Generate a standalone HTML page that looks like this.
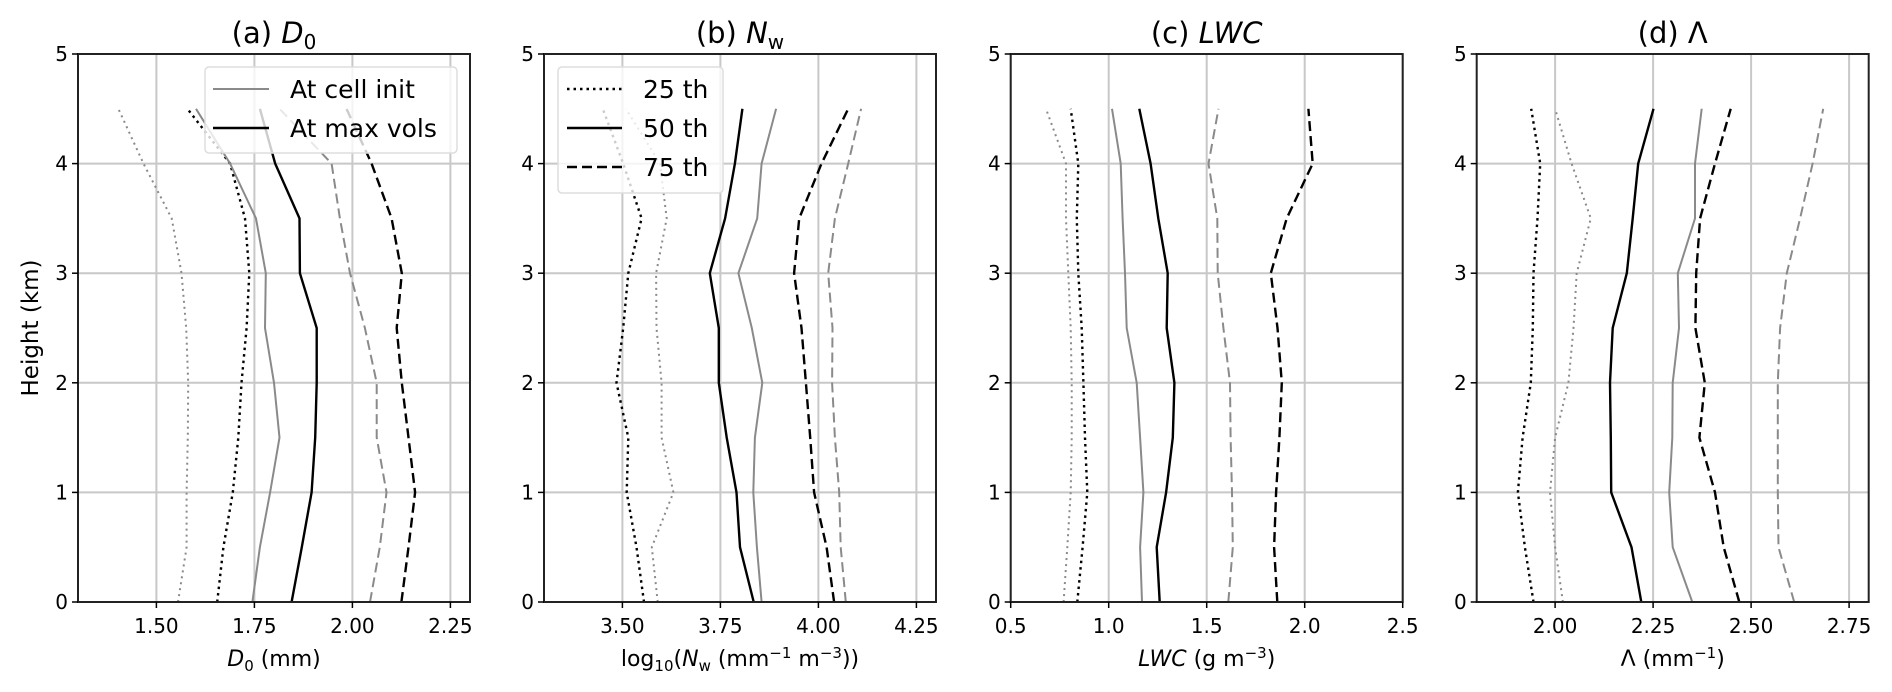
<!DOCTYPE html>
<html><head><meta charset="utf-8">
<style>
html,body{margin:0;padding:0;background:#fff;}
svg{display:block;font-family:"DejaVu Sans","Liberation Sans",sans-serif;}
</style></head>
<body>
<svg id="chart" width="1892" height="692" viewBox="0 0 1892 692" xmlns="http://www.w3.org/2000/svg"></svg>
<script>
// Heights (km) shared by all profiles
const heights = [0, 0.5, 1, 1.5, 2, 2.5, 3, 3.5, 4, 4.5];
const yTicks = [0, 1, 2, 3, 4, 5];

// (a) D0
const d0Ticks = [1.50, 1.75, 2.00, 2.25];
const d0InitP25 = [1.555, 1.577, 1.577, 1.58, 1.581, 1.576, 1.564, 1.539, 1.467, 1.403];
const d0MaxP25  = [1.655, 1.671, 1.695, 1.709, 1.717, 1.73, 1.737, 1.726, 1.688, 1.579];
const d0InitP50 = [1.745, 1.764, 1.79, 1.814, 1.8, 1.777, 1.779, 1.754, 1.688, 1.601];
const d0MaxP50  = [1.845, 1.871, 1.896, 1.905, 1.909, 1.909, 1.866, 1.865, 1.803, 1.764];
const d0InitP75 = [2.045, 2.07, 2.087, 2.062, 2.062, 2.032, 1.994, 1.968, 1.947, 1.814];
const d0MaxP75  = [2.125, 2.143, 2.16, 2.143, 2.126, 2.113, 2.126, 2.1, 2.049, 1.985];

// (b) Nw
const nwTicks = [3.50, 3.75, 4.00, 4.25];
const nwInitP25 = [3.59, 3.575, 3.63, 3.6, 3.6, 3.587, 3.586, 3.613, 3.596, 3.509];
const nwMaxP25  = [3.555, 3.536, 3.511, 3.515, 3.485, 3.502, 3.515, 3.549, 3.502, 3.45];
const nwInitP50 = [3.855, 3.843, 3.834, 3.838, 3.857, 3.83, 3.796, 3.844, 3.855, 3.892];
const nwMaxP50  = [3.835, 3.8, 3.791, 3.766, 3.746, 3.746, 3.723, 3.762, 3.787, 3.806];
const nwInitP75 = [4.07, 4.057, 4.053, 4.042, 4.035, 4.036, 4.025, 4.042, 4.076, 4.109];
const nwMaxP75  = [4.04, 4.021, 3.989, 3.979, 3.968, 3.957, 3.938, 3.951, 4.008, 4.076];

// (c) LWC
const lwcTicks = [0.5, 1.0, 1.5, 2.0, 2.5];
const lwcInitP25 = [0.77, 0.789, 0.806, 0.811, 0.811, 0.806, 0.794, 0.782, 0.782, 0.68];
const lwcMaxP25  = [0.84, 0.867, 0.891, 0.879, 0.871, 0.862, 0.845, 0.837, 0.845, 0.806];
const lwcInitP50 = [1.17, 1.16, 1.177, 1.16, 1.143, 1.092, 1.083, 1.071, 1.061, 1.017];
const lwcMaxP50  = [1.26, 1.245, 1.293, 1.327, 1.335, 1.296, 1.301, 1.253, 1.214, 1.156];
const lwcInitP75 = [1.61, 1.633, 1.629, 1.622, 1.619, 1.585, 1.556, 1.554, 1.509, 1.56];
const lwcMaxP75  = [1.86, 1.844, 1.854, 1.871, 1.883, 1.861, 1.827, 1.908, 2.041, 2.019];

// (d) Lambda
const lamTicks = [2.00, 2.25, 2.50, 2.75];
const lamInitP25 = [2.02, 2.0, 1.987, 2.0, 2.034, 2.047, 2.055, 2.091, 2.042, 2.0];
const lamMaxP25  = [1.945, 1.923, 1.905, 1.917, 1.938, 1.943, 1.945, 1.955, 1.962, 1.939];
const lamInitP50 = [2.35, 2.30, 2.291, 2.299, 2.3, 2.316, 2.313, 2.357, 2.357, 2.374];
const lamMaxP50  = [2.22, 2.195, 2.143, 2.142, 2.14, 2.147, 2.183, 2.198, 2.212, 2.251];
const lamInitP75 = [2.61, 2.57, 2.568, 2.568, 2.568, 2.574, 2.591, 2.625, 2.657, 2.684];
const lamMaxP75  = [2.47, 2.43, 2.408, 2.368, 2.382, 2.358, 2.36, 2.37, 2.408, 2.448];

const NS = "http://www.w3.org/2000/svg";
const svg = document.getElementById("chart");
const GRAY = "#8a8a8a", BLACK = "#000";
const TOP = 54, BOT = 602, W = 392;
const yScale = h => BOT - (h / 5) * (BOT - TOP);

function mk(tag, attrs, parent) {
  const e = document.createElementNS(NS, tag);
  for (const k in attrs) e.setAttribute(k, attrs[k]);
  (parent || svg).appendChild(e);
  return e;
}

const panels = [
  {key:"d0", left:78, min:1.3, max:2.3, ticks:d0Ticks, dec:2,
   title:'(a) <tspan font-style="italic">D</tspan><tspan font-size="20" dy="6">0</tspan>',
   xlabel:'<tspan font-style="italic">D</tspan><tspan font-size="15" dy="5">0</tspan><tspan dy="-5"> (mm)</tspan>',
   series:[[d0InitP25,GRAY,"dot"],[d0MaxP25,BLACK,"dot"],[d0InitP50,GRAY,"solid"],[d0MaxP50,BLACK,"solid"],[d0InitP75,GRAY,"dash"],[d0MaxP75,BLACK,"dash"]]},
  {key:"nw", left:544, min:3.3, max:4.3, ticks:nwTicks, dec:2,
   title:'(b) <tspan font-style="italic">N</tspan><tspan font-size="20" dy="6">w</tspan>',
   xlabel:'log<tspan font-size="15" dy="5">10</tspan><tspan dy="-5">(</tspan><tspan font-style="italic">N</tspan><tspan font-size="15" dy="5">w</tspan><tspan dy="-5"> (mm</tspan><tspan font-size="15" dy="-8">−1</tspan><tspan dy="8"> m</tspan><tspan font-size="15" dy="-8">−3</tspan><tspan dy="8">))</tspan>',
   series:[[nwInitP25,GRAY,"dot"],[nwMaxP25,BLACK,"dot"],[nwInitP50,GRAY,"solid"],[nwMaxP50,BLACK,"solid"],[nwInitP75,GRAY,"dash"],[nwMaxP75,BLACK,"dash"]]},
  {key:"lwc", left:1010.7, min:0.5, max:2.5, ticks:lwcTicks, dec:1,
   title:'(c) <tspan font-style="italic">LWC</tspan>',
   xlabel:'<tspan font-style="italic">LWC</tspan> (g m<tspan font-size="15" dy="-8">−3</tspan><tspan dy="8">)</tspan>',
   series:[[lwcInitP25,GRAY,"dot"],[lwcMaxP25,BLACK,"dot"],[lwcInitP50,GRAY,"solid"],[lwcMaxP50,BLACK,"solid"],[lwcInitP75,GRAY,"dash"],[lwcMaxP75,BLACK,"dash"]]},
  {key:"lambda", left:1476.7, min:1.8, max:2.8, ticks:lamTicks, dec:2,
   title:'(d) Λ',
   xlabel:'Λ (mm<tspan font-size="15" dy="-8">−1</tspan><tspan dy="8">)</tspan>',
   series:[[lamInitP25,GRAY,"dot"],[lamMaxP25,BLACK,"dot"],[lamInitP50,GRAY,"solid"],[lamMaxP50,BLACK,"solid"],[lamInitP75,GRAY,"dash"],[lamMaxP75,BLACK,"dash"]]}
];

function styleLine(el, color, kind) {
  el.setAttribute("stroke", color);
  el.setAttribute("fill", "none");
  el.setAttribute("stroke-width", color === GRAY ? "2" : "2.4");
  if (kind === "dot") el.setAttribute("stroke-dasharray", color === GRAY ? "2 4" : "2.5 4");
  if (kind === "dash") el.setAttribute("stroke-dasharray", "10 5");
}

panels.forEach(p => {
  const g = mk("g", {});
  
  
  const xs = v => p.left + (v - p.min) / (p.max - p.min) * W;
  // grid
  p.ticks.forEach(t => {
    const gl = mk("line", {x1:xs(t), x2:xs(t), y1:TOP, y2:BOT, stroke:"#c8c8c8", "stroke-width":2}, g);
    
    
  });
  yTicks.forEach(t => {
    const gl = mk("line", {x1:p.left, x2:p.left+W, y1:yScale(t), y2:yScale(t), stroke:"#c8c8c8", "stroke-width":2}, g);
    
    
  });
  // series
  p.series.forEach((s, i) => {
    const pts = s[0].map((v, j) => xs(v).toFixed(1) + "," + yScale(heights[j]).toFixed(1)).join(" ");
    const pl = mk("polyline", {points:pts}, g);
    
    
    styleLine(pl, s[1], s[2]);
  });
  // frame
  const fr = mk("rect", {x:p.left, y:TOP, width:W, height:BOT-TOP, fill:"none", stroke:"#222", "stroke-width":2}, g);
  
  
  // x ticks
  p.ticks.forEach(t => {
    mk("line", {x1:xs(t), x2:xs(t), y1:BOT, y2:BOT+6, stroke:"#000", "stroke-width":1.5}, g);
    const tl = mk("text", {x:xs(t), y:633, "font-size":20, "text-anchor":"middle", fill:"#000"}, g);
    
    
    tl.textContent = t.toFixed(p.dec);
  });
  // y ticks
  yTicks.forEach(t => {
    mk("line", {x1:p.left-6, x2:p.left, y1:yScale(t), y2:yScale(t), stroke:"#000", "stroke-width":1.5}, g);
    const tl = mk("text", {x:p.left-10, y:yScale(t)+7, "font-size":20, "text-anchor":"end", fill:"#000"}, g);
    
    
    tl.textContent = t;
  });
  const ti = mk("text", {x:p.left+W/2, y:43, "font-size":29, "text-anchor":"middle", fill:"#000"}, g);
  
  
  ti.innerHTML = p.title;
  const xl = mk("text", {x:p.left+W/2, y:666, "font-size":22, "text-anchor":"middle", fill:"#000"}, g);
  
  
  xl.innerHTML = p.xlabel;
});

// y axis title
const yt = mk("text", {x:0, y:0, "font-size":23, "text-anchor":"middle", transform:"translate(38,328) rotate(-90)", fill:"#000"});


yt.textContent = "Height (km)";

// legend (a)
const lgA = mk("g", {});


mk("rect", {x:205, y:67, width:252, height:86, rx:4, fill:"rgba(255,255,255,0.8)", stroke:"#ddd", "stroke-width":1.5}, lgA);
[["At cell init", GRAY, 89], ["At max vols", BLACK, 128]].forEach(e => {
  const ln = mk("line", {x1:213, x2:269, y1:e[2], y2:e[2]}, lgA);
  
  
  styleLine(ln, e[1], "solid");
  const tx = mk("text", {x:290, y:e[2]+9, "font-size":25, fill:"#000"}, lgA);
  
  
  tx.textContent = e[0];
});
// legend (b)
const lgB = mk("g", {});


mk("rect", {x:558, y:67, width:165, height:126, rx:4, fill:"rgba(255,255,255,0.8)", stroke:"#ddd", "stroke-width":1.5}, lgB);
[["25 th","dot",89], ["50 th","solid",128], ["75 th","dash",167]].forEach(e => {
  const ln = mk("line", {x1:567, x2:622, y1:e[2], y2:e[2]}, lgB);
  
  
  styleLine(ln, BLACK, e[1]);
  const tx = mk("text", {x:643, y:e[2]+9, "font-size":25, fill:"#000"}, lgB);
  
  
  tx.textContent = e[0];
});
</script>
</body></html>
